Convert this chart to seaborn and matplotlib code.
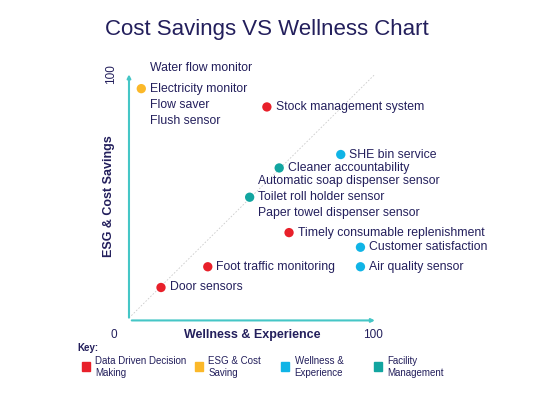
import matplotlib
matplotlib.use("Agg")
import matplotlib.pyplot as plt
import seaborn as sns
import pandas as pd

labels = ["Water flow monitor\nElectricity monitor\nFlow saver\nFlush sensor",
          "Stock management system", "SHE bin service", "Cleaner accountability",
          "Automatic soap dispenser sensor\nToilet roll holder sensor\nPaper towel dispenser sensor",
          "Timely consumable replenishment", "Customer satisfaction", "Air quality sensor",
          "Foot traffic monitoring", "Door sensors"]
wellness = [5, 56, 86, 61, 49, 65, 94, 94, 32, 13]
savings = [94, 86.5, 67, 61.5, 49.5, 35, 29, 21, 21, 12.5]
category = ["ESG & Cost Saving", "Data Driven Decision Making", "Wellness & Experience",
            "Facility Management", "Facility Management", "Data Driven Decision Making",
            "Wellness & Experience", "Wellness & Experience", "Data Driven Decision Making",
            "Data Driven Decision Making"]
key_labels = ["Data Driven Decision\nMaking", "ESG & Cost\nSaving", "Wellness &\nExperience", "Facility\nManagement"]
key_cats = ["Data Driven Decision Making", "ESG & Cost Saving", "Wellness & Experience", "Facility Management"]
colors = {"Data Driven Decision Making": "#e8202a", "ESG & Cost Saving": "#fbb829",
          "Wellness & Experience": "#10b4e6", "Facility Management": "#12a5a0"}
navy = "#231f5c"
teal = "#45c6c6"

sns.set_style("white")
plt.rcParams['font.family'] = ['Liberation Sans', 'DejaVu Sans']
fig = plt.figure(figsize=(5.33, 4.0), dpi=100)
ax = fig.add_axes([0.242, 0.205, 0.462, 0.61])
df = pd.DataFrame({"x": wellness, "y": savings, "c": category})
sns.scatterplot(data=df, x="x", y="y", hue="c", palette=colors, s=45, edgecolor="none", legend=False, ax=ax, zorder=3)
ax.set_xlim(0, 100); ax.set_ylim(0, 100)
ax.axis("off")
ax.plot([0, 100], [0, 100], color="#cccccc", lw=0.6, ls=(0, (2, 2)), zorder=1)
ax.annotate("", xy=(0, 101), xytext=(0, -1), arrowprops=dict(arrowstyle="-|>", color=teal, lw=1.5, mutation_scale=5), annotation_clip=False)
ax.annotate("", xy=(101, -1), xytext=(0, -1), arrowprops=dict(arrowstyle="-|>", color=teal, lw=1.5, mutation_scale=5), annotation_clip=False)
fs = 8.8
for lab, x, y in zip(labels, wellness, savings):
    if lab.startswith("Water"):
        first, rest = lab.split("\n", 1)
        ax.text(x + 3.5, y + 8.5, first, color=navy, fontsize=fs, va="center")
        ax.text(x + 3.5, y + 2.5, rest, color=navy, fontsize=fs, va="top", linespacing=1.45)
    else:
        ax.text(x + 3.5, y, lab, color=navy, fontsize=fs, va="center", linespacing=1.45)
ax.text(-5, -4.5, "0", color=navy, fontsize=8.5, ha="right", va="top")
ax.text(99, -4.5, "100", color=navy, fontsize=8.5, ha="center", va="top")
ax.text(-5, 100, "100", color=navy, fontsize=8.5, ha="right", va="center", rotation=90)
ax.text(50, -4.5, "Wellness & Experience", color=navy, fontsize=9, fontweight="bold", ha="center", va="top")
ax.text(-5.5, 50, "ESG & Cost Savings", color=navy, fontsize=9, fontweight="bold", ha="right", va="center", rotation=90)
fig.text(0.5, 0.925, "Cost Savings VS Wellness Chart", color=navy, fontsize=16, ha="center", va="center")
fig.text(0.145, 0.13, "Key:", color=navy, fontsize=7, fontweight="bold", va="center")
xs = [0.153, 0.366, 0.528, 0.702]
for xk, lab, c in zip(xs, key_labels, key_cats):
    fig.patches.append(plt.Rectangle((xk, 0.072), 0.015, 0.022, color=colors[c], transform=fig.transFigure, figure=fig))
    fig.text(xk + 0.025, 0.082, lab, color=navy, fontsize=7, va="center", linespacing=1.3)
fig.savefig("out.png", dpi=100)
